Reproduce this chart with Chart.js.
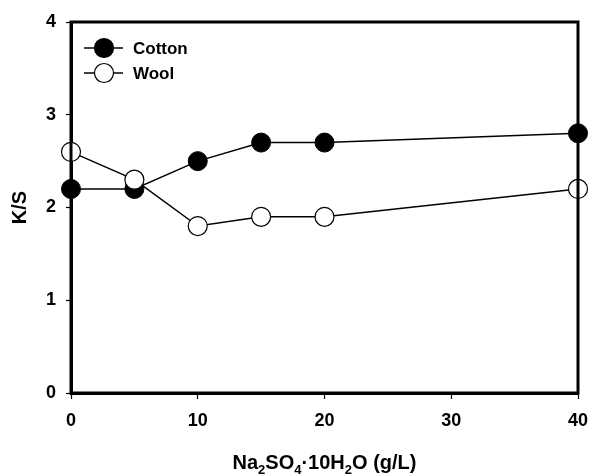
<!DOCTYPE html>
<html>
<head>
<meta charset="utf-8">
<script src="https://cdn.jsdelivr.net/npm/chart.js@4"></script>
<style>
  html, body { margin: 0; padding: 0; background: #fff; }
  #wrap { width: 593px; height: 476px; }
</style>
</head>
<body>
<div id="wrap"><canvas id="chart" width="593" height="476"></canvas></div>
<script>
// Data
const concentration = [0, 5, 10, 15, 20, 40];
const cottonKS = [2.2, 2.2, 2.5, 2.7, 2.7, 2.8];
const woolKS = [2.6, 2.3, 1.8, 1.9, 1.9, 2.2];
const xTicks = [0, 10, 20, 30, 40];
const yTicks = [0, 1, 2, 3, 4];

const FONT = '"Liberation Sans", Arial, sans-serif';

function toPoints(xs, ys) {
    return xs.map((x, i) => ({ x: x, y: ys[i] }));
}

// Draws the box round the plot area
const frameBox = {
    id: 'frameBox',
    afterDatasetsDraw(chart) {
        const { ctx, chartArea: a } = chart;
        ctx.save();
        ctx.strokeStyle = '#000';
        ctx.lineWidth = 3;
        ctx.strokeRect(a.left, a.top, a.right - a.left, a.bottom - a.top);
        ctx.restore();
    }
};

// Legend with the line running through the marker
const lineLegend = {
    id: 'lineLegend',
    afterDraw(chart) {
        const ctx = chart.ctx;
        const a = chart.chartArea;
        ctx.save();
        chart.data.datasets.forEach((ds, i) => {
            const y = a.top + 26 + i * 25;
            const cx = a.left + 33;
            ctx.strokeStyle = '#000';
            ctx.lineWidth = 1.5;
            ctx.beginPath();
            ctx.moveTo(cx - 20, y);
            ctx.lineTo(cx + 19, y);
            ctx.stroke();
            ctx.beginPath();
            ctx.arc(cx, y, 9.5, 0, Math.PI * 2);
            ctx.fillStyle = ds.pointBackgroundColor;
            ctx.fill();
            ctx.lineWidth = 1.2;
            ctx.stroke();
            ctx.fillStyle = '#000';
            ctx.font = 'bold 17px ' + FONT;
            ctx.textBaseline = 'middle';
            ctx.textAlign = 'left';
            ctx.fillText(ds.label, cx + 29, y + 1);
        });
        ctx.restore();
    }
};

// X axis title with subscripts
const xTitle = {
    id: 'xTitle',
    afterDraw(chart) {
        const ctx = chart.ctx;
        const a = chart.chartArea;
        const parts = [
            ['Na', false], ['2', true], ['SO', false], ['4', true],
            ['\u00b710H', false], ['2', true], ['O (g/L)', false]
        ];
        const big = 'bold 20px ' + FONT;
        const small = 'bold 13px ' + FONT;
        ctx.save();
        let total = 0;
        parts.forEach(p => {
            ctx.font = p[1] ? small : big;
            total += ctx.measureText(p[0]).width;
        });
        let x = (a.left + a.right) / 2 - total / 2;
        const base = 469;
        ctx.fillStyle = '#000';
        ctx.textBaseline = 'alphabetic';
        ctx.textAlign = 'left';
        parts.forEach(p => {
            ctx.font = p[1] ? small : big;
            ctx.fillText(p[0], x, p[1] ? base + 5 : base);
            x += ctx.measureText(p[0]).width;
        });
        ctx.restore();
    }
};

new Chart(document.getElementById('chart'), {
    type: 'scatter',
    data: {
        datasets: [{
            label: 'Cotton',
            data: toPoints(concentration, cottonKS),
            showLine: true,
            borderColor: '#000',
            borderWidth: 1.5,
            pointRadius: 9.5,
            pointHoverRadius: 9.5,
            pointBackgroundColor: '#000',
            pointBorderColor: '#000',
            pointBorderWidth: 1,
            order: 1,
            clip: false
        }, {
            label: 'Wool',
            data: toPoints(concentration, woolKS),
            showLine: true,
            borderColor: '#000',
            borderWidth: 1.5,
            pointRadius: 9.5,
            pointHoverRadius: 9.5,
            pointBackgroundColor: '#fff',
            pointBorderColor: '#000',
            pointBorderWidth: 1.2,
            order: 0,
            clip: false
        }]
    },
    options: {
        responsive: false,
        animation: false,
        layout: { padding: { top: 22, right: 0, left: 0, bottom: 0 } },
        plugins: {
            legend: { display: false },
            tooltip: { enabled: false }
        },
        scales: {
            x: {
                type: 'linear',
                min: 0,
                max: 40,
                afterBuildTicks: scale => { scale.ticks = xTicks.map(v => ({ value: v })); },
                afterFit: scale => {
                    scale.height = 83;
                    scale.paddingLeft = 0;
                    scale.paddingRight = 15;
                },
                grid: { drawOnChartArea: false, drawTicks: true, tickLength: 6, tickWidth: 1.2, color: '#000' },
                border: { display: true, color: '#000', width: 3 },
                ticks: { color: '#000', padding: 11, font: { family: FONT, size: 18, weight: 'bold' } }
            },
            y: {
                type: 'linear',
                min: 0,
                max: 4,
                afterBuildTicks: scale => { scale.ticks = yTicks.map(v => ({ value: v })); },
                afterFit: scale => { scale.width = 71; },
                grid: { drawOnChartArea: false, drawTicks: true, tickLength: 5, tickWidth: 1.2, color: '#000' },
                border: { display: true, color: '#000', width: 3 },
                ticks: { color: '#000', padding: 10, font: { family: FONT, size: 18, weight: 'bold' } },
                title: {
                    display: true,
                    text: 'K/S',
                    color: '#000',
                    padding: { top: 8, bottom: 0 },
                    font: { family: FONT, size: 20, weight: 'bold' }
                }
            }
        }
    },
    plugins: [frameBox, lineLegend, xTitle]
});
</script>
</body>
</html>
